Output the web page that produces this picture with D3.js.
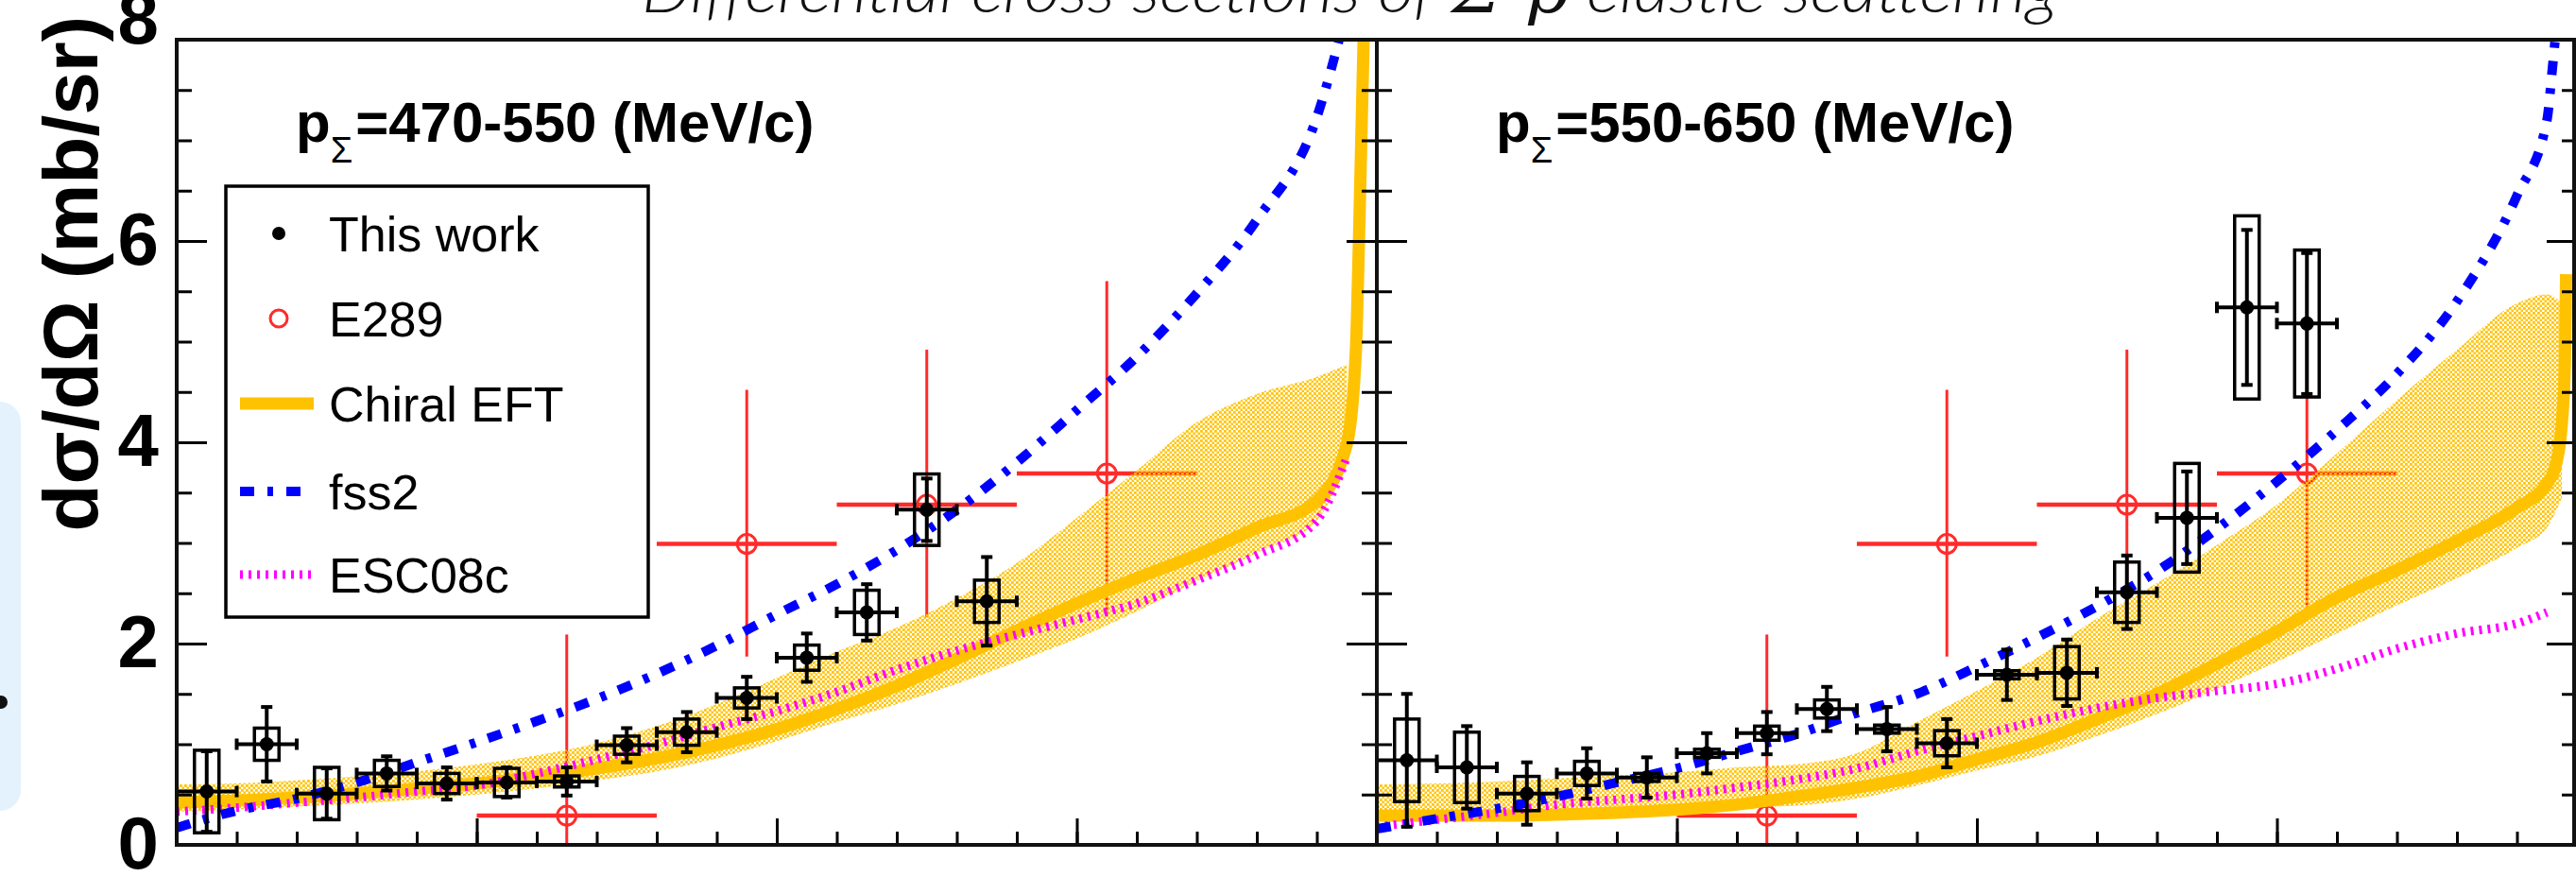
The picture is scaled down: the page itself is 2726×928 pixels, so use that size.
<!DOCTYPE html>
<html lang="en">
<head>
<meta charset="UTF-8">
<title>Differential cross sections of Σ−p elastic scattering</title>
<style>
  body { margin: 0; background: #fff; }
  svg { display: block; font-family: "Liberation Sans", Arial, sans-serif; }
</style>
</head>
<body>
<svg width="2726" height="928"></svg>
<script src="https://d3js.org/d3.v7.min.js"></script>
<script>
// --- data ---------------------------------------------------------------
const yTickLabels = [0, 2, 4, 6, 8];
const momentumBins = ["470-550", "550-650"];
const legendLabels = ["This work", "E289", "Chiral EFT", "fss2", "ESC08c"];

// this work: bin centres in cos(theta), half width 0.05
const binCos = [-0.95, -0.85, -0.75, -0.65, -0.55, -0.45, -0.35, -0.25,
                -0.15, -0.05, 0.05, 0.15, 0.25, 0.35, 0.45, 0.55];

const lowVal  = [0.53, 1.00, 0.51, 0.71, 0.61, 0.62, 0.63, 0.99, 1.12, 1.46, 1.86, 2.31, 3.33, 2.42];
const lowStat = [0.40, 0.37, 0.25, 0.17, 0.16, 0.15, 0.14, 0.17, 0.20, 0.21, 0.24, 0.28, 0.31, 0.44];
const lowSys  = [0.41, 0.16, 0.26, 0.13, 0.10, 0.14, 0.055, 0.09, 0.13, 0.10, 0.125, 0.22, 0.355, 0.21];

const highVal  = [0.84, 0.77, 0.51, 0.71, 0.67, 0.91, 1.11, 1.35, 1.15, 1.01, 1.69, 1.71, 2.51, 3.25, 5.34, 5.18];
const highStat = [0.66, 0.41, 0.31, 0.25, 0.20, 0.20, 0.21, 0.22, 0.22, 0.24, 0.25, 0.33, 0.365, 0.46, 0.77, 0.70];
const highSys  = [0.41, 0.35, 0.17, 0.12, 0.04, 0.04, 0.07, 0.09, 0.04, 0.125, 0.04, 0.26, 0.30, 0.54, 0.91, 0.73];

// E289 (same in both panels), half width 0.15
const e289Cos  = [-0.35, -0.05, 0.25, 0.55];
const e289Val  = [0.29, 2.99, 3.38, 3.69];
const e289Up   = [1.80, 1.53, 1.54, 1.91];
const e289Down = [0.29, 1.12, 1.12, 1.42];

// theory curves on a common angle grid
const gridCos = [-1, -0.9, -0.8, -0.7, -0.6, -0.5, -0.4, -0.3, -0.2, -0.1, 0,
                 0.1, 0.2, 0.3, 0.4, 0.5, 0.6, 0.7, 0.8, 0.9, 0.95];

const chiralLow  = [0.42, 0.44, 0.47, 0.51, 0.56, 0.61, 0.68, 0.76, 0.86, 0.99, 1.15,
                    1.35, 1.58, 1.85, 2.13, 2.40, 2.65, 2.88, 3.15, 3.42, 3.98];
const chiralLowTailCos = [0.965, 0.97, 0.978, 0.985];
const chiralLowTail    = [4.9, 5.95, 8.0, 10.5];
const bandLowMin = [0.33, 0.35, 0.38, 0.41, 0.45, 0.50, 0.56, 0.64, 0.73, 0.86, 1.03,
                    1.22, 1.40, 1.60, 1.82, 2.05, 2.32, 2.62, 2.90, 3.22, 3.80];
const bandLowMax = [0.60, 0.61, 0.64, 0.68, 0.73, 0.80, 0.89, 1.01, 1.18, 1.40, 1.66,
                    1.92, 2.16, 2.45, 2.80, 3.25, 3.72, 4.20, 4.48, 4.65, 4.77];
const fss2Low    = [0.17, 0.34, 0.46, 0.62, 0.82, 1.02, 1.23, 1.45, 1.70, 1.98, 2.29,
                    2.59, 2.93, 3.33, 3.80, 4.32, 4.85, 5.48, 6.21, 7.23, 8.3];
const esc08cLow  = [0.33, 0.37, 0.42, 0.47, 0.53, 0.59, 0.71, 0.85, 1.00, 1.17, 1.33,
                    1.52, 1.74, 1.93, 2.09, 2.24, 2.40, 2.63, 2.88, 3.22, 3.85];

const chiralHigh = [0.29, 0.29, 0.29, 0.30, 0.32, 0.35, 0.40, 0.48, 0.57, 0.68, 0.85,
                    1.02, 1.25, 1.50, 1.80, 2.12, 2.46, 2.73, 3.02, 3.35, 3.59];
const chiralHighTailCos = [0.965, 0.975, 0.98, 0.982];
const chiralHighTail    = [3.78, 4.2, 4.8, 5.67];
const bandHighMin = [0.26, 0.27, 0.28, 0.30, 0.32, 0.34, 0.37, 0.39, 0.46, 0.59, 0.74,
                     0.88, 1.08, 1.30, 1.55, 1.82, 2.10, 2.38, 2.65, 2.95, 3.15];
const bandHighMax = [0.60, 0.61, 0.63, 0.66, 0.69, 0.72, 0.77, 0.80, 0.91, 1.22, 1.53,
                     1.86, 2.25, 2.60, 2.98, 3.38, 3.89, 4.42, 4.92, 5.38, 5.47];
const bandHighTailCos = [0.975];
const bandHighTailMin = [3.45];
const bandHighTailMax = [5.38];
const fss2High   = [0.16, 0.26, 0.36, 0.48, 0.62, 0.76, 0.93, 1.10, 1.31, 1.50, 1.77,
                    2.06, 2.37, 2.72, 3.14, 3.61, 4.12, 4.68, 5.40, 6.45, 7.20];
const fss2HighTailCos = [0.958, 0.965, 0.975];
const fss2HighTail    = [7.65, 8.1, 9.0];
const esc08cHigh = [0.18, 0.25, 0.32, 0.40, 0.45, 0.50, 0.57, 0.65, 0.76, 0.93, 1.08,
                    1.23, 1.36, 1.46, 1.53, 1.60, 1.75, 1.95, 2.10, 2.20, 2.31];

// --- layout ---------------------------------------------------------------
const W = 2726, H = 928;
const svg = d3.select("svg").attr("viewBox", [0, 0, W, H]);
const defs = svg.append("defs");

const y = d3.scaleLinear().domain([0, 8]).range([894, 42]);

const YELLOW = "#ffc200", BLUE = "#0000ff", MAGENTA = "#ff00ff", RED = "#ff2b2b";
const FSS2_DASH = "15,14,6,14", ESC_DASH = "3,6";

// dotted hatch used for the chiral EFT band
const pat = defs.append("pattern").attr("id", "hatch")
  .attr("patternUnits", "userSpaceOnUse").attr("width", 5).attr("height", 5);
pat.append("rect").attr("width", 2.8).attr("height", 2.8).attr("fill", YELLOW);
pat.append("rect").attr("x", 2.5).attr("y", 2.5).attr("width", 2.8).attr("height", 2.8).attr("fill", YELLOW);

// little blue tab on the far left
svg.append("rect").attr("x", -30).attr("y", 425).attr("width", 52).attr("height", 433)
  .attr("rx", 22).attr("fill", "#e3f2fd");
svg.append("circle").attr("cx", 1).attr("cy", 743).attr("r", 7).attr("fill", "#111");

const zip = (c, v) => c.map((d, i) => ({c: d, v: v[i]}));

const panels = [
  {
    id: "L", x: d3.scaleLinear().domain([-1, 1]).range([187, 1457]),
    label: momentumBins[0],
    val: lowVal, stat: lowStat, sys: lowSys,
    chiral: zip(gridCos.concat(chiralLowTailCos), chiralLow.concat(chiralLowTail)),
    band: gridCos.map((c, i) => ({c, lo: bandLowMin[i], hi: bandLowMax[i]})),
    fss2: zip(gridCos, fss2Low),
    esc: zip(gridCos, esc08cLow)
  },
  {
    id: "R", x: d3.scaleLinear().domain([-1, 1]).range([1457, 2727]),
    label: momentumBins[1],
    val: highVal, stat: highStat, sys: highSys,
    chiral: zip(gridCos.concat(chiralHighTailCos), chiralHigh.concat(chiralHighTail)),
    band: gridCos.concat(bandHighTailCos).map((c, i) => ({c,
      lo: bandHighMin.concat(bandHighTailMin)[i], hi: bandHighMax.concat(bandHighTailMax)[i]})),
    fss2: zip(gridCos.concat(fss2HighTailCos), fss2High.concat(fss2HighTail)),
    esc: zip(gridCos, esc08cHigh)
  }
];

const line = x => d3.line().x(d => x(d.c)).y(d => y(d.v)).curve(d3.curveMonotoneX);

panels.forEach(p => {
  const x = p.x;
  const [x0, x1] = x.range();
  defs.append("clipPath").attr("id", "clip" + p.id).append("rect")
    .attr("x", x0).attr("y", y(8)).attr("width", x1 - x0).attr("height", y(0) - y(8));
  const plot = svg.append("g").attr("clip-path", `url(#clip${p.id})`);

  // E289 points
  const e = plot.append("g").attr("stroke", RED).attr("fill", "none");
  e289Cos.forEach((c, i) => {
    const v = e289Val[i];
    e.append("line").attr("x1", x(c - 0.15)).attr("x2", x(c + 0.15))
      .attr("y1", y(v)).attr("y2", y(v)).attr("stroke-width", 4.5);
    e.append("line").attr("x1", x(c)).attr("x2", x(c))
      .attr("y1", y(v + e289Up[i])).attr("y2", y(Math.max(0, v - e289Down[i])))
      .attr("stroke-width", 3);
    e.append("circle").attr("cx", x(c)).attr("cy", y(v)).attr("r", 10).attr("stroke-width", 3);
  });

  // chiral EFT band
  plot.append("path").datum(p.band)
    .attr("d", d3.area().x(d => x(d.c)).y0(d => y(d.lo)).y1(d => y(d.hi)).curve(d3.curveMonotoneX))
    .attr("fill", "url(#hatch)").attr("opacity", 0.95);

  plot.append("path").datum(p.chiral).attr("d", line(x))
    .attr("fill", "none").attr("stroke", YELLOW).attr("stroke-width", 13);
  plot.append("path").datum(p.esc).attr("d", line(x))
    .attr("fill", "none").attr("stroke", MAGENTA).attr("stroke-width", 9)
    .attr("stroke-dasharray", ESC_DASH);
  plot.append("path").datum(p.fss2).attr("d", line(x))
    .attr("fill", "none").attr("stroke", BLUE).attr("stroke-width", 10)
    .attr("stroke-dasharray", FSS2_DASH);

  // this work: sys boxes, stat bars, markers
  const pts = plot.append("g").attr("stroke", "#000").attr("stroke-width", 4);
  p.val.forEach((v, i) => {
    const cx = x(binCos[i]), cy = y(v);
    const s = p.stat[i], b = p.sys[i];
    pts.append("rect").attr("x", cx - 13).attr("y", y(v + b)).attr("width", 26)
      .attr("height", y(v - b) - y(v + b)).attr("fill", "none").attr("stroke-width", 3.5);
    pts.append("line").attr("x1", cx).attr("x2", cx).attr("y1", y(v + s)).attr("y2", y(v - s));
    [v + s, v - s].forEach(t => pts.append("line").attr("x1", cx - 6).attr("x2", cx + 6)
      .attr("y1", y(t)).attr("y2", y(t)));
    const xa = x(binCos[i] - 0.05), xb = x(binCos[i] + 0.05);
    pts.append("line").attr("x1", xa).attr("x2", xb).attr("y1", cy).attr("y2", cy);
    [xa, xb].forEach(t => pts.append("line").attr("x1", t).attr("x2", t)
      .attr("y1", cy - 6).attr("y2", cy + 6));
    pts.append("circle").attr("cx", cx).attr("cy", cy).attr("r", 7.5).attr("fill", "#000").attr("stroke", "none");
  });

  // ticks (inward on all sides)
  const tickStyle = g => g.call(s => s.select(".domain").remove())
    .selectAll("line").attr("stroke", "#000").attr("stroke-width", 3);
  svg.append("g").attr("transform", `translate(${x0},0)`)
    .call(d3.axisRight(y).tickValues(y.ticks(16)).tickSize(16).tickFormat("")).call(tickStyle);
  svg.append("g").attr("transform", `translate(${x0},0)`)
    .call(d3.axisRight(y).tickValues(yTickLabels).tickSize(32).tickFormat("")).call(tickStyle);
  svg.append("g").attr("transform", `translate(${x1},0)`)
    .call(d3.axisLeft(y).tickValues(y.ticks(16)).tickSize(16).tickFormat("")).call(tickStyle);
  svg.append("g").attr("transform", `translate(${x1},0)`)
    .call(d3.axisLeft(y).tickValues(yTickLabels).tickSize(32).tickFormat("")).call(tickStyle);
  svg.append("g").attr("transform", `translate(0,${y(0)})`)
    .call(d3.axisTop(x).tickValues(x.ticks(20)).tickSize(14).tickFormat("")).call(tickStyle);
  svg.append("g").attr("transform", `translate(0,${y(0)})`)
    .call(d3.axisTop(x).tickValues([-0.5, 0, 0.5]).tickSize(28).tickFormat("")).call(tickStyle);

  // frame
  svg.append("rect").attr("x", x0).attr("y", y(8)).attr("width", Math.min(x1, W - 2) - x0)
    .attr("height", y(0) - y(8)).attr("fill", "none").attr("stroke", "#111").attr("stroke-width", 4);

  // panel title
  const t = svg.append("text").attr("x", x0 + 126).attr("y", 150)
    .attr("font-size", 60).attr("font-weight", "bold").attr("fill", "#000");
  t.append("tspan").text("p");
  t.append("tspan").attr("dy", 22).attr("font-size", 38).attr("font-weight", "normal").text("Σ");
  t.append("tspan").attr("dy", -22).attr("dx", 3).text(`=${p.label} (MeV/c)`);
});

// y axis labels (the top one sits a little higher, as in the original)
svg.append("g").attr("transform", `translate(187,0)`)
  .call(d3.axisLeft(y).tickValues(yTickLabels).tickSize(0).tickPadding(19).tickFormat(d3.format("d")))
  .call(g => g.select(".domain").remove())
  .selectAll("text").attr("font-size", 78).attr("font-weight", "bold")
  .attr("font-family", "Liberation Sans, Arial, sans-serif").attr("fill", "#000")
  .attr("dy", d => d === 8 ? "0.05em" : "0.32em");

svg.append("text").attr("transform", "translate(103,17) rotate(-90)")
  .attr("text-anchor", "end").attr("font-size", 82).attr("font-weight", "bold")
  .text("dσ/dΩ (mb/sr)");

// title: large and mostly cut off by the top edge of the picture
const title = svg.append("text").attr("x", 679).attr("y", 13)
  .attr("font-size", 68).attr("font-style", "italic").attr("font-weight", 300)
  .attr("textLength", 1499).attr("lengthAdjust", "spacingAndGlyphs")
  .attr("font-family", "Lato, 'Open Sans', sans-serif").attr("fill", "#111");
title.append("tspan").text("Differential cross sections of ");
title.append("tspan").attr("font-family", "DejaVu Serif, serif").text("Σ");
title.append("tspan").attr("font-size", 40).attr("dy", -28).text("−");
title.append("tspan").attr("dy", 28).attr("font-family", "DejaVu Serif, serif").text("p");
title.append("tspan").text(" elastic scattering");

// legend
const lg = svg.append("g");
lg.append("rect").attr("x", 239).attr("y", 197).attr("width", 447).attr("height", 456)
  .attr("fill", "#fff").attr("stroke", "#000").attr("stroke-width", 3.5);
const rowY = [247, 337, 427, 520, 608];
lg.append("circle").attr("cx", 295).attr("cy", rowY[0]).attr("r", 7).attr("fill", "#000");
lg.append("circle").attr("cx", 295).attr("cy", rowY[1]).attr("r", 9)
  .attr("fill", "none").attr("stroke", RED).attr("stroke-width", 3);
lg.append("line").attr("x1", 254).attr("x2", 332).attr("y1", rowY[2]).attr("y2", rowY[2])
  .attr("stroke", YELLOW).attr("stroke-width", 13);
lg.append("line").attr("x1", 254).attr("x2", 332).attr("y1", rowY[3]).attr("y2", rowY[3])
  .attr("stroke", BLUE).attr("stroke-width", 10).attr("stroke-dasharray", FSS2_DASH);
lg.append("line").attr("x1", 254).attr("x2", 332).attr("y1", rowY[4]).attr("y2", rowY[4])
  .attr("stroke", MAGENTA).attr("stroke-width", 9).attr("stroke-dasharray", ESC_DASH);
lg.selectAll("text.lab").data(legendLabels).join("text").attr("class", "lab")
  .attr("x", 348).attr("y", (d, i) => rowY[i]).attr("dy", "0.36em")
  .attr("font-size", 52).text(d => d);
</script>
</body>
</html>
